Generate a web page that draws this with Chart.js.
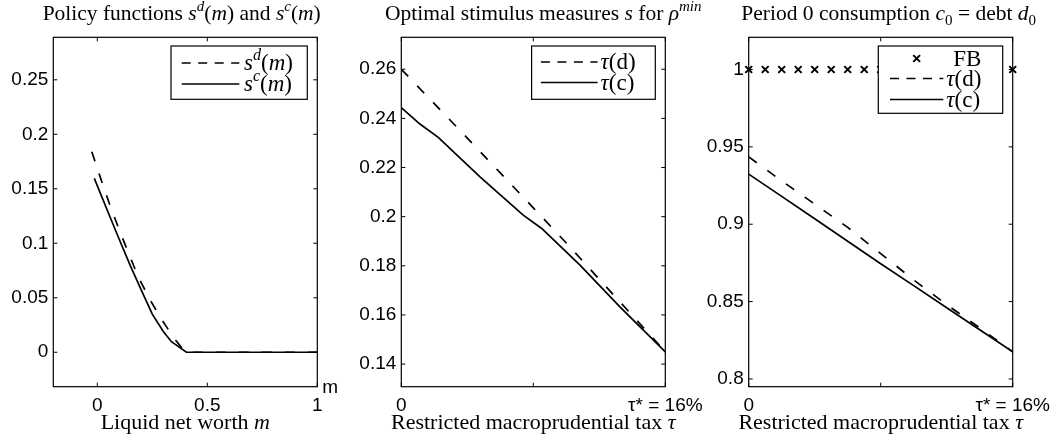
<!DOCTYPE html>
<html lang="en">
<head>
  <meta charset="UTF-8">
  <script src="https://cdn.jsdelivr.net/npm/chart.js"></script>
  <title>Stimulus and macroprudential tax</title>
  <style>
    body { margin: 0; background: #fff; }
    canvas { position: absolute; top: 0; }
  </style>
</head>
<body>
  <canvas id="grafPolicy" style="left:0px" width="353" height="442"></canvas>
  <canvas id="grafStimulus" style="left:340px" width="376" height="442"></canvas>
  <canvas id="grafConsumo" style="left:680px" width="378" height="442"></canvas>
<script>
  // Painel 1: policy functions s^d(m) e s^c(m)
  const mDebt = [-0.025, 0.0227, 0.06, 0.103, 0.145, 0.186, 0.24, 0.289, 0.349, 0.4, 0.5, 0.6, 0.7, 0.8, 0.9, 1.0];
  const sDebt = [0.184, 0.155, 0.1335, 0.1106, 0.0895, 0.0693, 0.048, 0.0312, 0.0128, 0, 0, 0, 0, 0, 0, 0];
  const mCons = [-0.0136, 0.05, 0.1, 0.15, 0.2, 0.25, 0.3, 0.337, 0.405, 0.42, 0.5, 0.6, 0.7, 0.8, 0.9, 1.0];
  const sCons = [0.1596, 0.128, 0.1035, 0.0795, 0.057, 0.035, 0.019, 0.0097, 0, 0, 0, 0, 0, 0, 0, 0];

  // Painel 2: estímulo ótimo s para rho^min
  const tauDebt = [0, 2, 4, 6, 8, 10, 12, 14, 16];
  const stimDebt = [0.26, 0.246, 0.232, 0.2178, 0.2036, 0.1893, 0.1745, 0.1598, 0.145];
  const tauCons = [0, 1.13, 2.24, 4.77, 7.39, 8.51, 10.83, 13.25, 16];
  const stimCons = [0.2444, 0.2377, 0.2323, 0.2162, 0.2006, 0.1952, 0.1803, 0.1633, 0.145];

  // Painel 3: consumo no período 0
  const tauGrid = [0, 2, 4, 6, 8, 10, 12, 14, 16];
  const consDebt = [0.9435, 0.928, 0.913, 0.898, 0.881, 0.864, 0.848, 0.833, 0.8176];
  const consCons = [0.9324, 0.918, 0.9035, 0.889, 0.8745, 0.8603, 0.846, 0.8318, 0.8176];
  const fbTau = [0, 1, 2, 3, 4, 5, 6, 7, 8, 9, 10, 11, 12, 13, 14, 15, 16];
  const fbCons = [1, 1, 1, 1, 1, 1, 1, 1, 1, 1, 1, 1, 1, 1, 1, 1, 1];

  // ticks
  const xTicks1 = [0, 0.5, 1];
  const xLabels1 = ['0', '0.5', '1'];
  const yTicks1 = [0, 0.05, 0.1, 0.15, 0.2, 0.25];
  const xTicksTau = [0, 8, 16];
  const xLabelsTau = ['0', '', 'τ* = 16%'];
  const yTicks2 = [0.14, 0.16, 0.18, 0.2, 0.22, 0.24, 0.26];
  const yTicks3 = [0.8, 0.85, 0.9, 0.95, 1];

  const pares = (xs, ys) => xs.map((x, i) => ({ x: x, y: ys[i] }));
  const SERIF = '"Liberation Serif", "Times New Roman", serif';
  const SANS = '"Liberation Sans", Arial, sans-serif';

  // texto com itálico / sobrescrito / subscrito
  function fonteSeg(st, size) {
    const small = (st === 'is' || st === 's' || st === 'b');
    const it = (st === 'i' || st === 'is');
    return (it ? 'italic ' : '') + (small ? size * 0.7 : size) + 'px ' + SERIF;
  }
  function larguraRich(ctx, segs, size) {
    let w = 0;
    segs.forEach(s => { ctx.font = fonteSeg(s[1] || '', size); w += ctx.measureText(s[0]).width; });
    return w;
  }
  function desenhaRich(ctx, segs, x, y, size, align) {
    let cx = align === 'center' ? x - larguraRich(ctx, segs, size) / 2 : x;
    ctx.textAlign = 'left';
    ctx.textBaseline = 'alphabetic';
    segs.forEach(s => {
      const st = s[1] || '';
      ctx.font = fonteSeg(st, size);
      let dy = 0;
      if (st === 'is' || st === 's') dy = -0.42 * size;
      if (st === 'b') dy = 0.22 * size;
      ctx.fillText(s[0], cx, y + dy);
      cx += ctx.measureText(s[0]).width;
    });
  }

  const decor = {
    id: 'decor',
    afterDatasetsDraw(chart, args, o) {
      const ctx = chart.ctx, a = chart.chartArea, L = o.legenda;
      if (!L) return;
      const bx = a.right - 10 - L.w, by = a.top + 8.7;
      ctx.save();
      ctx.fillStyle = '#fff';
      ctx.fillRect(bx, by, L.w, L.h);
      ctx.strokeStyle = '#000';
      ctx.lineWidth = 1.2;
      ctx.strokeRect(bx, by, L.w, L.h);
      L.itens.forEach((it, k) => {
        const ry = by + L.linhas[k];
        ctx.strokeStyle = '#000';
        if (it.marca) {
          const mx = bx + (L.amostra[0] + L.amostra[1]) / 2, r = 3.4;
          ctx.lineWidth = 2;
          ctx.setLineDash([]);
          ctx.beginPath();
          ctx.moveTo(mx - r, ry - r); ctx.lineTo(mx + r, ry + r);
          ctx.moveTo(mx + r, ry - r); ctx.lineTo(mx - r, ry + r);
          ctx.stroke();
        } else {
          ctx.lineWidth = 1.7;
          ctx.setLineDash(it.tracejado ? [9, 7.5] : []);
          ctx.beginPath();
          ctx.moveTo(bx + L.amostra[0], ry);
          ctx.lineTo(bx + L.amostra[1], ry);
          ctx.stroke();
        }
        ctx.setLineDash([]);
        ctx.fillStyle = '#000';
        desenhaRich(ctx, it.texto, bx + (it.tx || L.tx), ry + 7, 23, 'left');
      });
      ctx.restore();
    },
    afterDraw(chart, args, o) {
      const ctx = chart.ctx, a = chart.chartArea;
      const sx = chart.scales.x, sy = chart.scales.y;
      ctx.save();
      ctx.strokeStyle = '#000';
      ctx.lineWidth = 1.2;
      ctx.setLineDash([]);
      ctx.strokeRect(a.left, a.top, a.right - a.left, a.bottom - a.top);
      // ticks para dentro, estilo MATLAB
      ctx.lineWidth = 1;
      ctx.beginPath();
      sy.ticks.forEach(t => {
        const py = sy.getPixelForValue(t.value);
        ctx.moveTo(a.left, py); ctx.lineTo(a.left + 4, py);
        ctx.moveTo(a.right, py); ctx.lineTo(a.right - 4, py);
      });
      sx.ticks.forEach(t => {
        const px = sx.getPixelForValue(t.value);
        ctx.moveTo(px, a.bottom); ctx.lineTo(px, a.bottom - 4);
        ctx.moveTo(px, a.top); ctx.lineTo(px, a.top + 4);
      });
      ctx.stroke();
      ctx.fillStyle = '#000';
      const cx = (a.left + a.right) / 2;
      desenhaRich(ctx, o.titulo, cx + (o.tituloDx || 0), 20, 21.5, 'center');
      desenhaRich(ctx, o.rotuloX, cx, 428.5, 22, 'center');
      if (o.extra) {
        ctx.font = '19px ' + SANS;
        ctx.textAlign = 'left';
        ctx.textBaseline = 'alphabetic';
        ctx.fillText(o.extra, a.right + 5, a.bottom + 6.5);
      }
      ctx.restore();
    }
  };

  function linha(dados, tracejado) {
    return {
      data: dados,
      borderColor: '#000',
      borderWidth: 1.7,
      borderDash: tracejado ? [10, 13] : [],
      pointRadius: 0,
      tension: 0,
      fill: false
    };
  }

  function novoGrafico(id, datasets, ex, ey, d) {
    return new Chart(document.getElementById(id), {
      type: 'line',
      data: { datasets: datasets },
      options: {
        responsive: false,
        animation: false,
        layout: { autoPadding: false, padding: { top: 37.3, right: d.padDir, left: 0, bottom: 0 } },
        plugins: { legend: { display: false }, tooltip: { enabled: false }, decor: d },
        scales: {
          x: {
            type: 'linear', min: ex.min, max: ex.max,
            afterBuildTicks: s => { s.ticks = ex.ticks.map(v => ({ value: v })); },
            afterFit: s => { s.height = 55.3; },
            grid: { display: false, drawTicks: false },
            border: { display: false },
            ticks: {
              autoSkip: false, maxRotation: 0, padding: 8, color: '#000',
              font: { family: SANS, size: 19 },
              callback: (v, i) => ex.labels[i]
            }
          },
          y: {
            type: 'linear', min: ey.min, max: ey.max,
            afterBuildTicks: s => { s.ticks = ey.ticks.map(v => ({ value: v })); },
            afterFit: s => { s.width = d.padEsq; },
            grid: { display: false, drawTicks: false },
            border: { display: false },
            ticks: {
              padding: 5, color: '#000',
              font: { family: SANS, size: 19 },
              callback: v => String(v)
            }
          }
        }
      },
      plugins: [decor]
    });
  }

  const itemD = { tracejado: true };
  const itemC = { tracejado: false };

  novoGrafico('grafPolicy',
    [linha(pares(mDebt, sDebt), true), linha(pares(mCons, sCons), false)],
    { min: -0.2, max: 1, ticks: xTicks1, labels: xLabels1 },
    { min: -0.0316, max: 0.289, ticks: yTicks1 },
    {
      padEsq: 53.3, padDir: 35.7, tituloDx: -3.6,
      titulo: [['Policy functions '], ['s', 'i'], ['d', 'is'], ['('], ['m', 'i'], [') and '], ['s', 'i'], ['c', 'is'], ['('], ['m', 'i'], [')']],
      rotuloX: [['Liquid net worth '], ['m', 'i']],
      extra: 'm',
      legenda: {
        w: 136.3, h: 53.3, linhas: [17, 38], amostra: [10.7, 68.3], tx: 73,
        itens: [
          Object.assign({ texto: [['s', 'i'], ['d', 'is'], ['('], ['m', 'i'], [')']] }, itemD),
          Object.assign({ texto: [['s', 'i'], ['c', 'is'], ['('], ['m', 'i'], [')']] }, itemC)
        ]
      }
    });

  novoGrafico('grafStimulus',
    [linha(pares(tauDebt, stimDebt), true), linha(pares(tauCons, stimCons), false)],
    { min: 0, max: 16, ticks: xTicksTau, labels: xLabelsTau },
    { min: 0.1308, max: 0.273, ticks: yTicks2 },
    {
      padEsq: 61.3, padDir: 50.7, tituloDx: 10,
      titulo: [['Optimal stimulus measures '], ['s', 'i'], [' for '], ['ρ', 'i'], ['min', 'is']],
      rotuloX: [['Restricted macroprudential tax '], ['τ', 'i']],
      legenda: {
        w: 123.7, h: 53.3, linhas: [16, 36.5], amostra: [9.3, 66], tx: 69,
        itens: [
          Object.assign({ texto: [['τ', 'i'], ['(d)']] }, itemD),
          Object.assign({ texto: [['τ', 'i'], ['(c)']] }, itemC)
        ]
      }
    });

  const fb = {
    data: pares(fbTau, fbCons),
    showLine: false,
    borderColor: '#000',
    backgroundColor: '#000',
    borderWidth: 2,
    pointStyle: 'crossRot',
    pointRadius: 4.8,
    pointBorderWidth: 2,
    clip: false
  };

  novoGrafico('grafConsumo',
    [fb, linha(pares(tauGrid, consDebt), true), linha(pares(tauGrid, consCons), false)],
    { min: 0, max: 16, ticks: xTicksTau, labels: xLabelsTau },
    { min: 0.795, max: 1.0208, ticks: yTicks3 },
    {
      padEsq: 68.7, padDir: 45.3, tituloDx: 8,
      titulo: [['Period 0 consumption '], ['c', 'i'], ['0', 'b'], [' = debt '], ['d', 'i'], ['0', 'b']],
      rotuloX: [['Restricted macroprudential tax '], ['τ', 'i']],
      legenda: {
        w: 124.4, h: 67.3, linhas: [12.5, 32.5, 53.5], amostra: [11.7, 65], tx: 68,
        itens: [
          { marca: true, texto: [['FB']], tx: 75 },
          Object.assign({ texto: [['τ', 'i'], ['(d)']] }, itemD),
          Object.assign({ texto: [['τ', 'i'], ['(c)']] }, itemC)
        ]
      }
    });
</script>
</body>
</html>
